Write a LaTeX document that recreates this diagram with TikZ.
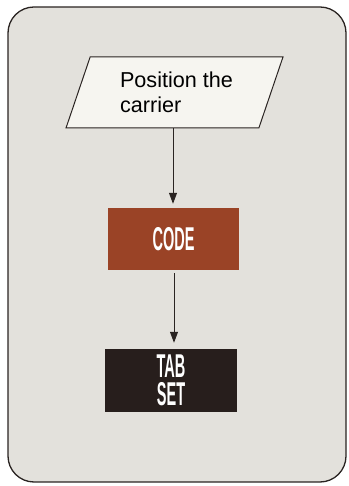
\documentclass[tikz,border=0pt]{standalone}
\usepackage{fontspec}
\setmainfont{Liberation Sans}
\usetikzlibrary{shapes.geometric,arrows.meta}
\definecolor{cardbg}{HTML}{E3E1DC}
\definecolor{iofill}{HTML}{F6F5F0}
\definecolor{codebrown}{HTML}{9A4326}
\definecolor{tabblack}{HTML}{271E1C}
\definecolor{inkline}{HTML}{2A2422}
\newcommand{\narrowtxt}[1]{\scalebox{0.44}[1]{#1}}
\tikzset{
  iobox/.style={trapezium, trapezium left angle=68, trapezium right angle=112,
    trapezium stretches=true, minimum width=217pt, minimum height=71pt,
    draw=inkline, line width=1pt, fill=iofill, inner sep=0pt,
    font=\fontsize{21.6}{25.5}\selectfont, align=left, text=black},
  blockbox/.style={minimum width=131pt, minimum height=62pt, inner sep=0pt,
    text=white, font=\bfseries\fontsize{33}{28}\selectfont, align=center},
  flowarrow/.style={draw=inkline, line width=1pt, -{Triangle[length=11pt,width=8pt]}}
}
\begin{document}
\begin{tikzpicture}[x=1pt,y=1pt]
\useasboundingbox (0,0) rectangle (348,486);
\draw[fill=cardbg, draw=inkline, line width=1.3pt, rounded corners=26pt] (8,4) rectangle (346,479);
\node[iobox] (pos) at (174.5,393.5) {\hspace*{4pt}Position the\\\hspace*{4pt}carrier};
\node[blockbox, fill=codebrown] (code) at (173.5,247) {\narrowtxt{CODE}};
\node[blockbox, fill=tabblack, minimum width=132pt, minimum height=63pt] (tab) at (171,105.5) {\narrowtxt{TAB}\\[0pt]\narrowtxt{SET}};
\draw[flowarrow, shorten >=4pt] (pos.south -| 173,0) -- (code.north -| 173,0);
\draw[flowarrow, shorten >=6pt, shorten <=3pt] (code.south -| 174,0) -- (tab.north -| 174,0);
\end{tikzpicture}
\end{document}
